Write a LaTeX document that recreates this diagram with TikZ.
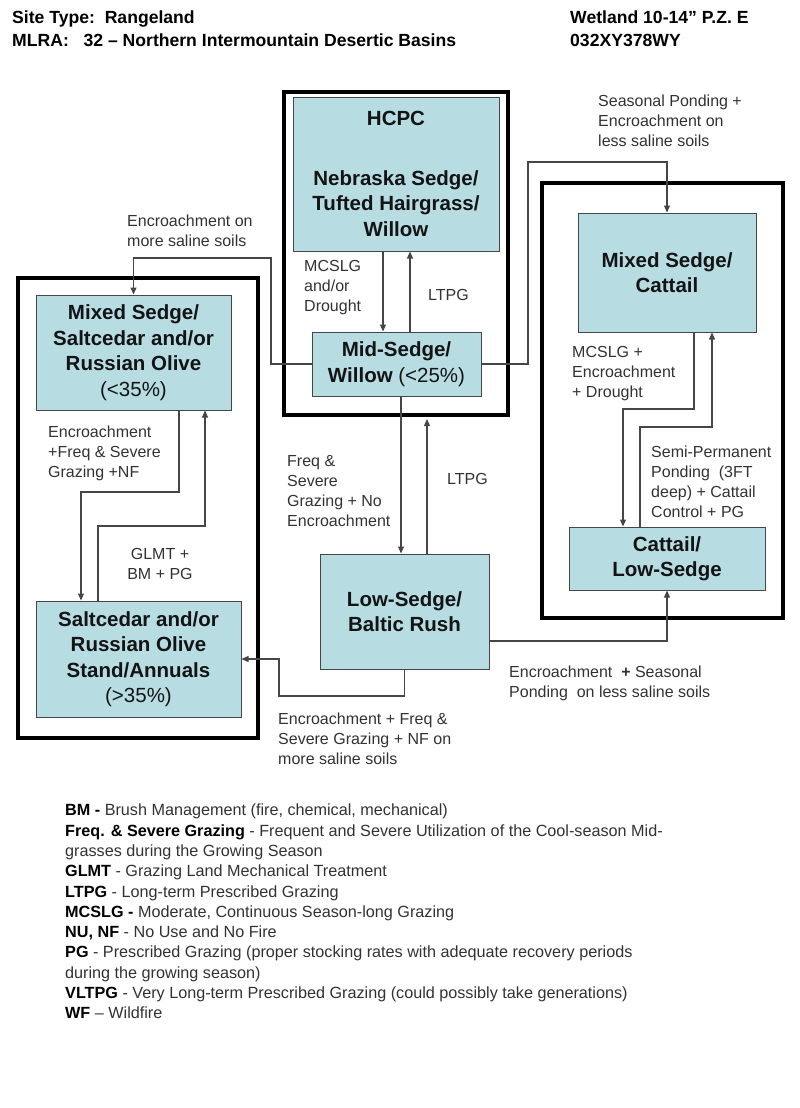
\documentclass[tikz,border=0pt]{standalone}
\usepackage{fontspec}
\setmainfont{Liberation Sans}
\usetikzlibrary{positioning}
\usetikzlibrary{calc}
\usetikzlibrary{arrows.meta}
\definecolor{boxfill}{RGB}{183,221,227}
\definecolor{linegray}{RGB}{70,70,70}
\definecolor{textgray}{RGB}{50,50,50}
\tikzset{
        state/.style={draw=linegray,line width=1pt,fill=boxfill,align=center,inner sep=0pt,
                      font=\fontsize{20.5}{25.5}\selectfont\bfseries,text=black!92},
        group/.style={draw=black,line width=4pt,inner sep=0pt},
        arr/.style={draw=linegray,line width=1.1pt,-{Triangle[length=7pt,width=6pt]}},
        lbl/.style={align=left,anchor=west,inner sep=0pt,text=textgray,font=\fontsize{16}{20}\selectfont},
        }

\begin{document}
\begin{tikzpicture}[x=1pt,y=-1pt]
	\useasboundingbox (0,0) rectangle (800,1108);

	% header...........................
	\node [anchor=west,align=left,inner sep=0pt,font=\fontsize{17.6}{23}\selectfont\bfseries] (site) at (12,28.5)
		{Site Type:\ \ Rangeland\\MLRA:\ \ \ 32 -- Northern Intermountain Desertic Basins};
	\node [anchor=west,align=left,inner sep=0pt,font=\fontsize{17.6}{23}\selectfont\bfseries] (wetland) at (570,28.5)
		{Wetland 10-14” P.Z. E\\032XY378WY};

	% group frames.....................
	\node [group,minimum width=224pt,minimum height=323pt] (hcpcgroup) at (396,253.5) {};
	\node [group,minimum width=240pt,minimum height=460pt] (saltgroup) at (138,508) {};
	\node [group,minimum width=241pt,minimum height=435pt] (catgroup) at (662.5,400.5) {};

	% states...........................
	\node [state,minimum width=206pt,minimum height=154pt] (hcpc) at (396,174)
		{HCPC\\[34pt]Nebraska Sedge/\\Tufted Hairgrass/\\Willow};
	\node [state,minimum width=169pt,minimum height=64pt] (mid) at (396.5,364)
		{Mid-Sedge/\\Willow {\mdseries (<25\%)}};
	\node [state,minimum width=195pt,minimum height=115pt] (saltmix) at (133.5,352.5)
		{Mixed Sedge/\\Saltcedar and/or\\Russian Olive\\{\mdseries (<35\%)}};
	\node [state,minimum width=205pt,minimum height=116pt] (stand) at (138.5,659)
		{Saltcedar and/or\\Russian Olive\\Stand/Annuals\\{\mdseries (>35\%)}};
	\node [state,minimum width=169pt,minimum height=115pt] (lowsedge) at (404.5,611.5)
		{Low-Sedge/\\Baltic Rush};
	\node [state,minimum width=178pt,minimum height=119pt] (catmix) at (667,272.5)
		{Mixed Sedge/\\Cattail};
	\node [state,minimum width=196pt,minimum height=63pt] (catlow) at (667,558.5)
		{Cattail/\\Low-Sedge};

	% bend points......................
	\coordinate (xa) at (383,0);
	\coordinate (xb) at (410,0);
	\coordinate (xc) at (401,0);
	\coordinate (xd) at (427,0);
	\coordinate (e1) at (271,258);
	\coordinate (f1) at (528,162);
	\coordinate (g1) at (179,492);
	\coordinate (g2) at (81,492);
	\coordinate (h1) at (98,526);
	\coordinate (h2) at (205,526);
	\coordinate (i1) at (694,409);
	\coordinate (i2) at (623,409);
	\coordinate (j1) at (640,427);
	\coordinate (j2) at (712,427);
	\coordinate (k1) at (667,641);
	\coordinate (l1) at (279,696);

	% HCPC <-> Mid-Sedge...............
	\draw [arr] (hcpc.south -| xa) -- (mid.north -| xa);
	\draw [arr] (mid.north -| xb) -- (hcpc.south -| xb);

	% Mid-Sedge <-> Low-Sedge..........
	\draw [arr] (mid.south -| xc) -- (lowsedge.north -| xc);
	\draw [arr,shorten >=2pt] (lowsedge.north -| xd) -- (hcpcgroup.south -| xd);

	% out of Mid-Sedge.................
	\draw [arr] (mid.west) -| (e1) -| (saltmix.north);
	\draw [arr] (mid.east) -| (f1) -| (catmix.north);

	% saltcedar states.................
	\draw [arr] (saltmix.south -| g1) -- (g1) -- (g2) -- (stand.north -| g2);
	\draw [arr] (stand.north -| h1) -- (h1) -- (h2) -- (saltmix.south -| h2);

	% cattail states...................
	\draw [arr] (catmix.south -| i1) -- (i1) -- (i2) -- (catlow.north -| i2);
	\draw [arr] (catlow.north -| j1) -- (j1) -- (j2) -- (catmix.south -| j2);

	% out of Low-Sedge.................
	\draw [arr] (lowsedge.east |- k1) -- (k1) -- (catlow.south -| k1);
	\draw [arr] (lowsedge.south) |- (l1) |- (stand.east);

	% labels...........................
	\node [lbl] (lbsaline) at (127,230.5) {Encroachment on\\more saline soils};
	\node [lbl] (lbseasonal) at (598,121) {Seasonal Ponding +\\Encroachment on\\less saline soils};
	\node [lbl] (lbmcslg) at (304,288) {MCSLG\\and/or\\Drought};
	\node [lbl] (lbltpga) at (428,295) {LTPG};
	\node [lbl] (lbencfreq) at (48,453) {Encroachment\\+Freq \& Severe\\Grazing +NF};
	\node [lbl,align=center,anchor=center] (lbglmt) at (160,564) {GLMT +\\BM + PG};
	\node [lbl] (lbfreq) at (287,491) {Freq \&\\Severe\\Grazing + No\\Encroachment};
	\node [lbl] (lbltpgb) at (447,479) {LTPG};
	\node [lbl] (lbdrought) at (572,374) {MCSLG +\\Encroachment\\+ Drought};
	\node [lbl] (lbsemi) at (651,482) {Semi-Permanent\\Ponding\ \ (3FT\\deep) + Cattail\\Control + PG};
	\node [lbl] (lbponding) at (509,683) {Encroachment\ \ \textbf{+} Seasonal\\Ponding\ \ on less saline soils};
	\node [lbl] (lbmore) at (278,739) {Encroachment + Freq \&\\Severe Grazing + NF on\\more saline soils};

	% legend...........................
	\node [anchor=west,align=left,inner sep=0pt,text=textgray,font=\fontsize{16.2}{20.3}\selectfont] (legend) at (65,911.5)
		{\textbf{\color{black}BM -} Brush Management (fire, chemical, mechanical)\\
		 \textbf{\color{black}Freq. \& Severe Grazing} - Frequent and Severe Utilization of the Cool-season Mid-\\
		 grasses during the Growing Season\\
		 \textbf{\color{black}GLMT} - Grazing Land Mechanical Treatment\\
		 \textbf{\color{black}LTPG} - Long-term Prescribed Grazing\\
		 \textbf{\color{black}MCSLG -} Moderate, Continuous Season-long Grazing\\
		 \textbf{\color{black}NU, NF} - No Use and No Fire\\
		 \textbf{\color{black}PG} - Prescribed Grazing (proper stocking rates with adequate recovery periods\\
		 during the growing season)\\
		 \textbf{\color{black}VLTPG} - Very Long-term Prescribed Grazing (could possibly take generations)\\
		 \textbf{\color{black}WF} -- Wildfire};
\end{tikzpicture}
\end{document}
